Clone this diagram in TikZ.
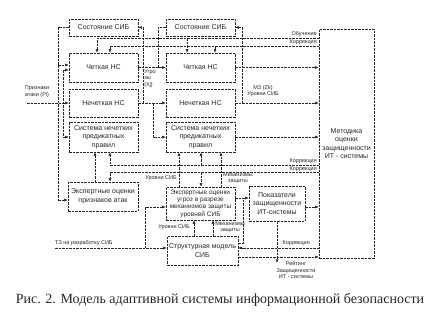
\documentclass[tikz,border=0pt]{standalone}
\usepackage{fontspec}
\setmainfont{Liberation Serif}
\setsansfont{Liberation Sans}
\usetikzlibrary{arrows.meta, positioning}

\begin{document}
\begin{tikzpicture}[x=1pt,y=-1pt]
\tikzset{blok/.style = {draw, inner sep=1pt, align=center, font=\sffamily\fontsize{7}{8.5}\selectfont}}
\tikzset{lbl/.style = {inner sep=0pt, align=center, font=\sffamily\fontsize{5.5}{6.5}\selectfont}}
\tikzset{every path/.style = {black!85, line width=0.5pt, dash pattern=on 2.5pt off 1pt}}
\tikzset{ar/.style = {-{Latex[length=3.6pt,width=2.8pt]}}}
\useasboundingbox (0,0) rectangle (440,316);
% boxes
\node[blok, minimum width=69pt, minimum height=17pt] (sL) at (103.5,27.5) {Состояние СИБ};
\node[blok, minimum width=69pt, minimum height=29pt] (cL) at (103.5,67.5) {Четкая НС};
\node[blok, minimum width=69pt, minimum height=28pt] (nL) at (103.5,103) {Нечеткая НС};
\node[blok, minimum width=69pt, minimum height=30pt] (pL) at (103.5,137) {Система нечетких\\предикатных\\правил};
\node[blok, minimum width=69pt, minimum height=17pt] (sM) at (200.5,27.5) {Состояние СИБ};
\node[blok, minimum width=69pt, minimum height=29pt] (cM) at (200.5,67.5) {Четкая НС};
\node[blok, minimum width=69pt, minimum height=28pt] (nM) at (200.5,103) {Нечеткая НС};
\node[blok, minimum width=69pt, minimum height=30pt] (pM) at (200.5,137) {Система нечетких\\предикатных\\правил};
\node[blok, minimum width=55pt, minimum height=229pt] (met) at (346.5,143.5) {Методика\\оценки\\защищенности\\ИТ - системы};
\node[blok, minimum width=70pt, minimum height=29pt] (eA) at (103,196.5) {Экспертные оценки\\признаков атак};
\node[blok, minimum width=69pt, minimum height=33pt, font=\sffamily\fontsize{6.5}{7.3}\selectfont] (eT) at (200.5,203.5) {Экспертные оценки\\угроз в разрезе\\механизмов защиты\\уровней СИБ};
\node[blok, minimum width=56pt, minimum height=35pt] (ind) at (277,203.5) {Показатели\\защищенности\\ИТ-системы};
\node[blok, minimum width=71pt, minimum height=29pt] (str) at (202.5,250.5) {Структурная модель\\СИБ};
% corner points
\coordinate (lv1) at (58,27.5);
\coordinate (lv2) at (58,200);
\coordinate (lv3) at (58,65);
\coordinate (in) at (27,103);
\coordinate (iv1) at (63,70);
\coordinate (iv2) at (63,137);
\coordinate (mv1) at (143,103);
\coordinate (mv3) at (153,103);
\coordinate (mv4) at (158,67.5);
\coordinate (rv1) at (242,103);
\coordinate (ob) at (319,38);
\coordinate (ob1) at (97,38);
\coordinate (ob2) at (187,38);
\coordinate (kr) at (319,46);
\coordinate (kr1) at (110,46);
\coordinate (kr2) at (215,46);
\coordinate (ea) at (95,182);
\coordinate (kA) at (319,165);
\coordinate (kA1) at (110,165);
\coordinate (kA2) at (201,165);
\coordinate (kB) at (319,172);
\coordinate (kB1) at (110,172);
\coordinate (kB2) at (201,172);
\coordinate (et1) at (179,187);
\coordinate (et2) at (221,187);
\coordinate (ei) at (235,198);
\coordinate (si) at (243,243);
\coordinate (si2) at (243,198);
\coordinate (im) at (305,207);
\coordinate (rt) at (277,263);
\coordinate (kC) at (319,248);
\coordinate (sm) at (238,257);
\coordinate (st1) at (194,236);
\coordinate (st2) at (213,236);
\coordinate (tz) at (55,248);
\coordinate (tz1) at (145,248);
\coordinate (tz2) at (145,207);
% left inputs
\draw (sL.west) -- (lv1) -- (lv2);
\draw[ar] (lv3) -- (lv3 -| cL.west);
\draw[ar] (lv2) -- (lv2 -| eA.west);
\draw[ar] (in) -- (nL.west);
\draw (iv1) -- (iv2);
\draw[ar] (iv1) -- (iv1 -| cL.west);
\draw[ar] (iv2) -- (iv2 -| pL.west);
\node[lbl] (pri) at (37,91.5) {Признаки\\атаки (Pi)};
% between columns
\draw[ar] (cL.east) -- (cM.west);
\draw[ar] (nL.east) -- (nM.west);
\draw[ar] (mv1) |- (sL.east);
\draw[ar] (mv3) |- (pM.west);
\draw (sM.west) -| (mv4);
\node[lbl, align=left, anchor=west] (ugr) at (144,78.5) {Угро\\зы\\(Xj)};
% to methodics
\draw[ar] (rv1) |- (sM.east);
\draw[ar] (cM.east) -- (cM.east -| met.west);
\draw[ar] (nM.east) -- (nM.east -| met.west);
\draw[ar] (pM.east) -- (pM.east -| met.west);
\node[lbl] (mz) at (263,91) {МЗ (Zk)\\Уровни СИБ};
% training and correction
\draw[ar] (ob) -- (ob1) -- (ob1 |- cL.north);
\draw[ar] (ob2) -- (ob2 |- cM.north);
\draw[ar] (kr) -- (kr1) -- (kr1 |- cL.north);
\draw[ar] (kr2) -- (kr2 |- cM.north);
\node[lbl, anchor=south east] (obl) at (317,37) {Обучение};
\node[lbl, anchor=south east] (krl) at (317,45) {Коррекция};
% expert estimates
\draw[ar] (ea) -- (ea |- pL.south);
\draw[ar] (kA) -- (kA1) -- (kA1 |- pL.south);
\draw[ar] (kA2) -- (kA2 |- pM.south);
\draw[ar] (kB) -- (kB1) -- (kB1 |- eA.north);
\draw[ar] (kB2) -- (kB2 |- eT.north);
\node[lbl, anchor=south east] (kAl) at (317,164) {Коррекция};
\node[lbl, anchor=south east] (kBl) at (317,171.5) {Коррекция};
\draw[ar] (et1) -- (et1 |- pM.south);
\draw[ar] (et2) -- (et2 |- pM.south);
\node[lbl, anchor=east] (ur1) at (177,178) {Уровни СИБ};
\node[lbl] (mh1) at (238,178) {Механизмы\\защиты};
% indices
\draw[ar] (ei) -- (ei -| ind.west);
\draw (si -| str.east) -- (si) -- (si2);
\draw[ar] (im) -- (im -| met.west);
\draw[ar] (ind.south) -- (rt);
\node[lbl] (rtl) at (296,270) {Рейтинг\\Защищенности\\ИТ - системы};
% structure model
\draw[ar] (kC) -- (kC -| str.east);
\draw[ar] (sm) -- (sm -| met.west);
\node[lbl, anchor=south east] (kCl) at (310,246) {Коррекция};
\draw[ar] (st1) -- (st1 |- eT.south);
\draw[ar] (st2) -- (st2 |- eT.south);
\node[lbl, anchor=east] (ur2) at (190,227) {Уровни СИБ};
\node[lbl, anchor=west] (mh2) at (215,227) {Механизмы\\защиты};
\draw[ar] (tz) -- (tz -| str.west);
\draw[ar] (tz1) -- (tz2) -- (tz2 -| eT.west);
\node[lbl, anchor=south west] (tzl) at (55,246) {ТЗ на разработку СИБ};
% caption
\node[font=\fontsize{14}{16}\selectfont, inner sep=0pt] (cap) at (220,300) {Рис. 2. Модель адаптивной системы информационной безопасности};
\end{tikzpicture}
\end{document}
